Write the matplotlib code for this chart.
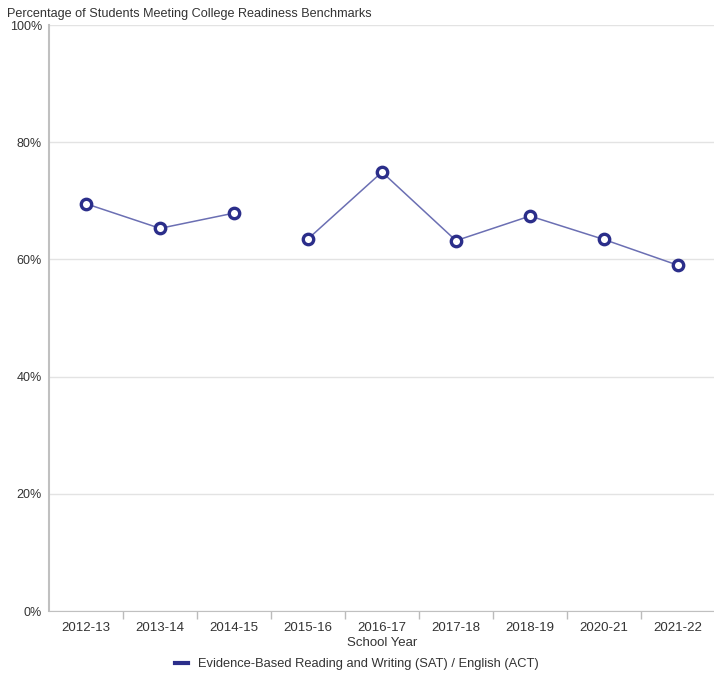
import matplotlib
matplotlib.use("Agg")
import matplotlib.pyplot as plt
import numpy as np
from matplotlib.lines import Line2D

years = ["2012-13", "2013-14", "2014-15", "2015-16", "2016-17", "2017-18", "2018-19", "2020-21", "2021-22"]
values = [69.5, 65.3, 67.9, 63.5, 74.9, 63.2, 67.4, 63.4, 59.0]
break_after = 2  # line is broken between 2014-15 and 2015-16
series_name = "Evidence-Based Reading and Writing (SAT) / English (ACT)"
y_ticks = [0, 20, 40, 60, 80, 100]

plt.rcParams['font.family'] = ['Liberation Sans', 'DejaVu Sans']

fig = plt.figure(figsize=(7.14, 6.77), dpi=100)
ax = fig.add_axes([49/714, (677-611)/677, 666/714, (611-25)/677])

x = np.arange(len(years))
line_col = "#6b6fb3"
mk_col = "#2b2e8a"
segs = [(0, break_after + 1), (break_after + 1, len(years))]
for s, e in segs:
    ax.plot(x[s:e], values[s:e], color=line_col, lw=1.1, zorder=2)
    ax.plot(x[s:e], values[s:e], ls='none', marker='o', ms=7.5, mfc='white',
            mec=mk_col, mew=2.4, zorder=3)

ax.set_xlim(-0.5, len(years) - 0.5)
ax.set_ylim(0, 100)
ax.set_yticks(y_ticks)
ax.set_yticklabels([f"{v}%" for v in y_ticks])
ax.yaxis.grid(True, color="#e3e3e3", lw=1)
ax.set_axisbelow(True)
ax.tick_params(axis='y', length=0, labelsize=9, colors="#333333", pad=5)

ax.set_xticks(x)
ax.set_xticklabels(years)
ax.tick_params(axis='x', which='major', length=0, labelsize=9.5, colors="#333333", pad=8)
ax.set_xticks(np.arange(0.5, len(years) - 1, 1), minor=True)
ax.tick_params(axis='x', which='minor', length=6, color="#bbbbbb", width=1)

for sp in ['top', 'right']:
    ax.spines[sp].set_visible(False)
ax.spines['left'].set_color("#c0c0c0")
ax.spines['bottom'].set_color("#c0c0c0")
ax.spines['left'].set_linewidth(1.5)

ax.set_xlabel("School Year", fontsize=9.5, color="#333333", labelpad=2)
fig.text(7/714, 1 - 14/677, "Percentage of Students Meeting College Readiness Benchmarks",
         fontsize=9.1, color="#333333", va='center', ha='left')

handle = Line2D([], [], color=mk_col, lw=3)
fig.legend([handle], [series_name], loc='center', bbox_to_anchor=(0.5, 1 - 664/677),
           frameon=False, fontsize=9.3, handlelength=1.0, handletextpad=0.8,
           labelcolor="#333333")

fig.savefig("out.png", dpi=100, facecolor='white')
